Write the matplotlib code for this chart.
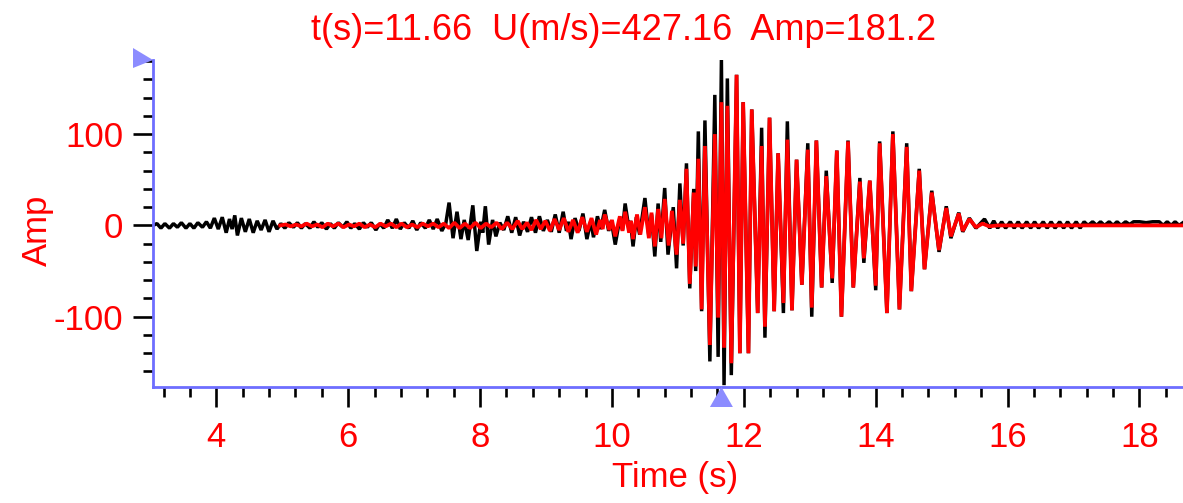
import matplotlib
matplotlib.use("Agg")
import matplotlib.pyplot as plt
from matplotlib.ticker import MultipleLocator
from matplotlib.patches import Polygon
import matplotlib.transforms as mtransforms

plt.rcParams['font.family'] = ['Liberation Sans', 'DejaVu Sans']
plt.rcParams['axes.unicode_minus'] = False

# ---- data (extrema) ----
black_t = [3.04, 3.10, 3.16, 3.22, 3.29, 3.35, 3.41, 3.47, 3.54, 3.60, 3.66, 3.72, 3.79, 3.85, 3.91,
           3.97, 4.03, 4.09, 4.15, 4.20, 4.24, 4.28, 4.32, 4.38, 4.44, 4.50, 4.56, 4.62, 4.68, 4.74,
           4.80, 4.86, 4.92, 4.98, 5.04, 5.10, 5.17, 5.23, 5.29, 5.35, 5.42, 5.48, 5.54, 5.60, 5.67,
           5.73, 5.79, 5.85, 5.92, 5.98, 6.04, 6.10, 6.17, 6.23, 6.29, 6.35, 6.42, 6.48, 6.54, 6.60,
           6.67, 6.73, 6.79, 6.85, 6.92, 6.98, 7.04, 7.10, 7.17, 7.23, 7.29, 7.35, 7.42, 7.48, 7.53,
           7.59, 7.65, 7.71, 7.76, 7.82, 7.89, 7.95, 8.01, 8.04, 8.08, 8.13, 8.19, 8.24, 8.30, 8.36,
           8.42, 8.48, 8.54, 8.60, 8.66, 8.72, 8.78, 8.84, 8.90, 8.96, 9.02, 9.08, 9.14, 9.20, 9.26,
           9.31, 9.34, 9.38, 9.44, 9.50, 9.56, 9.62, 9.68, 9.72, 9.78, 9.83, 9.89, 9.95, 9.99, 10.05,
           10.12, 10.16, 10.20, 10.26, 10.28, 10.32, 10.37, 10.42, 10.50, 10.56, 10.60, 10.65, 10.70,
           10.74, 10.80, 10.85, 10.93, 10.98, 11.03, 11.08, 11.13, 11.18, 11.24, 11.27, 11.31, 11.36,
           11.41, 11.485, 11.56, 11.61, 11.66, 11.70, 11.75, 11.81, 11.89, 11.94, 11.99, 12.07, 12.12,
           12.21, 12.27, 12.32, 12.39, 12.46, 12.52, 12.60, 12.66, 12.73, 12.80, 12.88, 12.97, 13.03,
           13.10, 13.18, 13.25, 13.34, 13.41, 13.48, 13.58, 13.66, 13.76, 13.82, 13.91, 14.00, 14.06,
           14.17, 14.26, 14.36, 14.47, 14.54, 14.66, 14.74, 14.85, 14.96, 15.07, 15.14, 15.26, 15.32,
           15.42, 15.52, 15.65, 15.73, 15.79, 15.85, 15.91, 15.97, 16.04, 16.10, 16.16, 16.22, 16.29,
           16.35, 16.41, 16.47, 16.54, 16.60, 16.66, 16.72, 16.79, 16.85, 16.91, 16.97, 17.04, 17.10,
           17.16, 17.22, 17.29, 17.35, 17.41, 17.47, 17.54, 17.60, 17.66, 17.72, 17.79, 17.85, 17.91,
           18.00, 18.10, 18.20, 18.30, 18.36, 18.42, 18.48, 18.54, 18.60, 18.66]
black_amp = [0, 2, -3, 2, -3, 2, -2, 3, -3, 2, -3, 3, -2, 4, -3,
             8, -4, 9, -8, 7, -4, 11, -11, 8, -7, 7, -8, 5, -5, 6,
             -7, 5, -4, 2, -3, 3, -2, 3, -3, 2, -3, 4, -2, 3, -4,
             2, -3, 3, -2, 4, -3, 2, -4, 3, -2, 3, -5, 2, -3, 6,
             -3, 7, -4, 3, -3, 5, -5, 3, -3, 6, -4, 7, -6, 2, 25,
             -14, 15, -15, 6, -16, 22, -28, 4, -8, 21, -21, 6, -12, 3, -5,
             10, -8, 9, -11, 4, -7, 9, -8, 10, -6, 6, -7, 12, -8, 15,
             -6, 4, -15, 8, -6, 13, -15, 5, -13, 10, -4, 17, -6, 5, -21,
             8, -5, 24, -5, 5, -23, 9, -10, 30, -12, 12, -34, 24,
             -18, 41, -32, 20, -47, 46, -22, 68, -69, 40, -50, 103, -94,
             115, -149, 143, -144, 181.2, -175, 161, -164, 165, -140, 135, -140, 127,
             -96, 107, -123, 118, -94, 79, -96, 114, -93, 72, -65, 90, -100,
             93, -68, 60, -63, 82, -100, 93, -68, 52, -41, 49, -71, 92,
             -96, 103, -92, 90, -72, 62, -48, 38, -29, 21, -14, 14, -7,
             8, -3, 7, -3, 5, -3, 4, -3, 4, -3, 4, -3, 4,
             -3, 4, -3, 4, -3, 4, -3, 4, -3, 4, -3, 4, -3,
             4, 0, 4, 0, 4, 0, 4, 0, 4, 0, 4, 1, 4,
             4, 3, 4, 4, 0, 4, 0, 4, 0, 3]

red_t = [4.97, 5.05, 5.13, 5.21, 5.29, 5.37, 5.45, 5.53, 5.61, 5.69, 5.77, 5.85, 5.93, 6.01, 6.09,
         6.17, 6.25, 6.33, 6.41, 6.49, 6.57, 6.65, 6.73, 6.81, 6.89, 6.97, 7.05, 7.13, 7.21, 7.29,
         7.37, 7.45, 7.53, 7.61, 7.69, 7.77, 7.85, 7.93, 8.01, 8.09, 8.17, 8.25, 8.33, 8.41, 8.49,
         8.57, 8.64, 8.71, 8.78, 8.85, 8.92, 8.99, 9.06, 9.13, 9.20, 9.27, 9.34, 9.41, 9.48, 9.55,
         9.62, 9.69, 9.76, 9.82, 9.86, 9.89, 9.96, 10.00, 10.05, 10.12, 10.16, 10.20, 10.26, 10.29,
         10.32, 10.38, 10.43, 10.50, 10.56, 10.60, 10.65, 10.70, 10.75, 10.80, 10.86, 10.91, 10.98,
         11.03, 11.08, 11.13, 11.18, 11.24, 11.27, 11.31, 11.36, 11.41, 11.485, 11.56, 11.61, 11.66,
         11.70, 11.75, 11.81, 11.89, 11.94, 11.99, 12.07, 12.12, 12.21, 12.27, 12.32, 12.39, 12.46,
         12.52, 12.60, 12.66, 12.73, 12.80, 12.88, 12.97, 13.03, 13.10, 13.18, 13.25, 13.34, 13.41,
         13.48, 13.58, 13.66, 13.76, 13.82, 13.91, 14.00, 14.06, 14.17, 14.26, 14.36, 14.47, 14.54,
         14.66, 14.74, 14.85, 14.96, 15.07, 15.14, 15.26, 15.32, 15.42, 15.52, 15.62, 15.72, 15.85,
         16.50, 17.20, 17.90, 18.66]
red_amp = [0, 1, -1, 1, -1, 2, -1, 1, -2, 2, -1, 2, -2, 1, -1,
           2, -2, 1, -2, 2, -1, 2, -2, 2, -2, 1, -2, 2, -1, 2,
           -2, 2, -3, 3, -3, 2, -3, 3, -3, 2, -2, 3, -4, 3, -4,
           5, -4, 3, -5, 6, -4, 5, -6, 7, -5, 8, -7, 6, -8, 9,
           -7, 8, -10, 6, -4, 12, -5, 6, -12, 10, -6, 15, -8, 5,
           -15, 12, -10, 20, -14, 14, -23, 18, -14, 29, -22, 16, -32,
           28, -20, 62, -64, 36, -45, 73, -92, 87, -131, 100, -101, 135,
           -134, 131, -151, 165, -140, 135, -140, 127, -96, 87, -111, 118, -94,
           79, -85, 94, -93, 72, -65, 83, -90, 93, -68, 54, -58, 82,
           -100, 92, -68, 48, -36, 49, -66, 90, -96, 100, -92, 86, -72,
           60, -48, 36, -27, 19, -12, 13, -6, 7, -2, 2, -1, 0,
           0, 0, 0, 0]

x_major_ticks = [4, 6, 8, 10, 12, 14, 16, 18]
y_major_ticks = [-100, 0, 100]
cursor_t = 11.66
cursor_amp = 181.2
title_text = "t(s)=11.66  U(m/s)=427.16  Amp=181.2"

# ---- figure ----
W, H = 1183, 503
fig = plt.figure(figsize=(W / 100, H / 100), dpi=100)
ax = fig.add_axes([153 / W, 1 - 387 / H, 1 - 153 / W, (387 - 60) / H])

ax.plot(black_t, black_amp, color='black', lw=2.5, solid_joinstyle='bevel', zorder=2)
ax.plot(red_t, red_amp, color='#ff0000', lw=2.7, solid_joinstyle='bevel', zorder=3)

ax.set_xlim(3.04, 18.66)
ax.set_ylim(-177, cursor_amp)

ax.set_xticks(x_major_ticks)
ax.set_yticks(y_major_ticks)
ax.xaxis.set_minor_locator(MultipleLocator(0.4))
ax.yaxis.set_minor_locator(MultipleLocator(20))

ax.tick_params(which='major', direction='out', length=14.4, width=1.9, color='black',
               labelcolor='red', labelsize=25)
ax.tick_params(which='minor', direction='out', length=7.2, width=1.9, color='black')
ax.tick_params(axis='x', which='major', pad=10)
ax.tick_params(axis='y', which='major', pad=7)

for s in ['top', 'right']:
    ax.spines[s].set_visible(False)
blue = '#6e6eff'
for s in ['left', 'bottom']:
    ax.spines[s].set_color(blue)
    ax.spines[s].set_linewidth(2.0)

# cursor markers
tri_col = '#8c8cff'
bt = mtransforms.blended_transform_factory(ax.transData, ax.transAxes)
dx = 11.5 / 66.0
dy = 20 / 327.0
ax.add_patch(Polygon([[cursor_t - dx, -dy], [cursor_t + dx, -dy], [cursor_t, 0]],
                     closed=True, transform=bt, facecolor=tri_col, edgecolor='none',
                     clip_on=False, zorder=5))
ax_w = 1183 - 153
ax_h = 327
ax.add_patch(Polygon([[-20 / ax_w, 1 + 12 / ax_h], [0, 1.0], [-20 / ax_w, 1 - 8 / ax_h]],
                     closed=True, transform=ax.transAxes, facecolor=tri_col, edgecolor='none',
                     clip_on=False, zorder=5))

fig.text(624 / W, 1 - 30 / H, title_text, ha='center', va='center', fontsize=26, color='red')
fig.text(37 / W, 1 - 230 / H, 'Amp', rotation=90, ha='center', va='center', fontsize=25, color='red')
fig.text(675 / W, 1 - 478 / H, 'Time (s)', ha='center', va='center', fontsize=25, color='red')

fig.savefig('out.png', dpi=100)
